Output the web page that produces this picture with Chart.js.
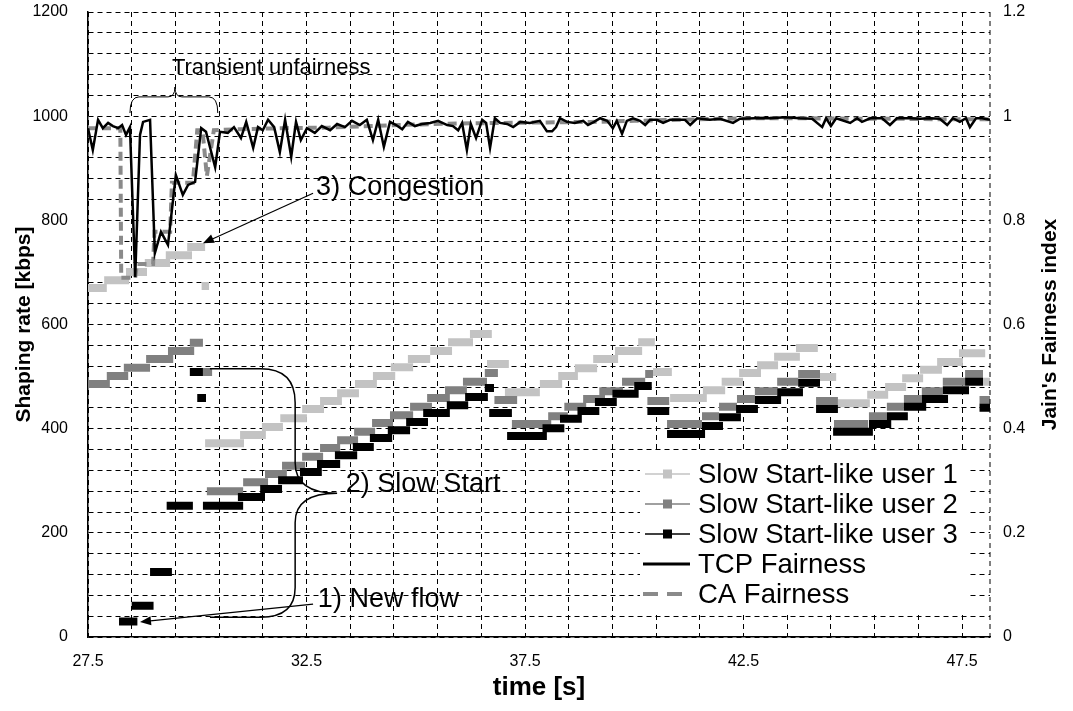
<!DOCTYPE html>
<html>
<head>
<meta charset="utf-8">
<script src="https://cdn.jsdelivr.net/npm/chart.js@4.4.1/dist/chart.umd.min.js"></script>
<style>
  html, body { margin: 0; padding: 0; background: #fff; }
  #wrap { width: 1073px; height: 711px; }
</style>
</head>
<body>
<div id="wrap"><canvas id="chart" width="1073" height="711"></canvas></div>
<script>
// axis ticks
const timeGrid = [27.5, 28.5, 29.5, 30.5, 31.5, 32.5, 33.5, 34.5, 35.5, 36.5, 37.5,
                  38.5, 39.5, 40.5, 41.5, 42.5, 43.5, 44.5, 45.5, 46.5, 47.5];
const timeLabels = [27.5, 32.5, 37.5, 42.5, 47.5];
const rateLabels = [0, 200, 400, 600, 800, 1000, 1200];
const rateGridStep = 40;
const fairLabels = [0, 0.2, 0.4, 0.6, 0.8, 1, 1.2];

// shaping rate steps: [start time, end time, kbps]
const user1Steps = [
  [27.5, 27.93, 670], [27.87, 28.44, 685], [28.37, 28.85, 701], [28.8, 29.38, 718],
  [29.28, 29.88, 733], [29.77, 30.18, 749], [30.1, 30.27, 674],
  [30.18, 31.07, 372], [30.98, 31.57, 388], [31.48, 31.96, 403], [31.9, 32.51, 420],
  [32.4, 32.9, 438], [32.81, 33.31, 453], [33.2, 33.7, 468], [33.61, 34.11, 486],
  [34.02, 34.53, 501], [34.43, 34.94, 518], [34.82, 35.33, 534], [35.33, 35.83, 549],
  [35.74, 36.31, 566], [36.24, 36.74, 582], [36.63, 37.13, 524],
  [37.04, 37.84, 470], [37.84, 38.35, 486], [38.26, 38.71, 501], [38.64, 39.15, 516],
  [39.06, 39.63, 534], [39.56, 40.18, 549], [40.09, 40.47, 566], [40.43, 40.86, 509],
  [40.82, 41.66, 459], [41.57, 42.08, 474], [42.0, 42.49, 490], [42.4, 42.9, 507],
  [42.81, 43.29, 522], [43.2, 43.79, 538], [43.7, 44.2, 555], [44.25, 44.62, 499],
  [44.66, 45.39, 449], [45.33, 45.81, 465], [45.74, 46.22, 480], [46.13, 46.61, 497],
  [46.54, 47.04, 513], [46.93, 47.52, 528], [47.43, 48.03, 545], [47.98, 48.14, 490]
];
const user2Steps = [
  [27.5, 28.0, 486], [27.93, 28.42, 501], [28.32, 28.92, 517], [28.83, 29.45, 534],
  [29.33, 29.93, 549], [29.83, 30.13, 565], [30.13, 30.34, 509],
  [30.22, 31.05, 280], [31.05, 31.62, 297], [31.55, 32.05, 313], [31.94, 32.47, 329],
  [32.4, 32.88, 346], [32.81, 33.27, 363], [33.2, 33.68, 378], [33.59, 34.07, 394],
  [34.0, 34.48, 411], [34.41, 34.94, 426], [34.87, 35.37, 442], [35.26, 35.78, 459],
  [35.67, 36.17, 474], [36.08, 36.63, 490], [36.58, 36.88, 507], [36.8, 37.32, 455],
  [37.2, 38.1, 409], [38.03, 38.48, 424], [38.4, 38.9, 442], [38.83, 39.33, 457],
  [39.2, 39.74, 472], [39.72, 40.25, 490], [40.25, 40.43, 505], [40.3, 40.8, 453],
  [40.75, 41.55, 409], [41.55, 41.94, 424], [41.94, 42.35, 442], [42.35, 42.76, 457],
  [42.76, 43.27, 472], [43.27, 43.75, 490], [43.75, 44.25, 505], [44.16, 44.66, 453],
  [44.57, 45.35, 409], [45.37, 45.78, 424], [45.78, 46.17, 442], [46.17, 46.58, 457],
  [46.58, 47.06, 472], [47.06, 47.57, 490], [47.57, 47.98, 505], [47.9, 48.14, 455]
];
const user3Steps = [
  [28.21, 28.63, 30], [28.5, 29.0, 60], [28.92, 29.42, 125], [29.3, 29.9, 252],
  [29.83, 30.13, 509], [30.0, 30.2, 459],
  [30.13, 31.05, 252], [30.93, 31.55, 269], [31.44, 31.94, 284], [31.85, 32.42, 301],
  [32.35, 32.85, 317], [32.74, 33.27, 332], [33.15, 33.66, 349], [33.56, 34.04, 365],
  [33.95, 34.46, 382], [34.36, 34.87, 397], [34.78, 35.28, 413], [35.17, 35.78, 430],
  [35.71, 36.2, 445], [36.13, 36.65, 461], [36.58, 36.79, 478], [36.68, 37.2, 430],
  [37.09, 38.0, 386], [37.9, 38.4, 401], [38.3, 38.8, 419], [38.7, 39.2, 434],
  [39.1, 39.6, 451], [39.5, 40.1, 467], [40.0, 40.4, 482], [40.3, 40.8, 434],
  [40.75, 41.62, 390], [41.55, 42.03, 405], [41.94, 42.44, 422], [42.33, 42.83, 438],
  [42.76, 43.36, 455], [43.27, 43.86, 470], [43.75, 44.25, 488], [44.16, 44.66, 438],
  [44.55, 45.46, 394], [45.37, 45.88, 409], [45.78, 46.26, 424], [46.17, 46.68, 442],
  [46.58, 47.18, 457], [47.06, 47.66, 474], [47.57, 47.98, 490], [47.9, 48.14, 440]
];

// Jain's fairness index: [time, index]
const tcpFairness = [
  [27.5, .977], [27.61, .935], [27.73, .993], [27.84, .977], [27.96, .987], [28.07, .981],
  [28.19, .977], [28.28, .983], [28.37, .964], [28.46, .979], [28.58, .691], [28.69, .964],
  [28.76, .989], [28.92, .993], [29.03, .737], [29.17, .778], [29.33, .753], [29.51, .887],
  [29.67, .849], [29.79, .868], [29.95, .874], [30.09, .977], [30.2, .970], [30.41, .902],
  [30.52, .970], [30.7, .968], [30.84, .979], [31.0, .958], [31.12, .989], [31.28, .939],
  [31.39, .979], [31.5, .973], [31.62, .993], [31.76, .979], [31.89, .931], [32.01, .993],
  [32.15, .922], [32.26, .989], [32.37, .954], [32.51, .977], [32.69, .968], [32.85, .981],
  [33.04, .973], [33.2, .985], [33.38, .979], [33.54, .991], [33.72, .983], [33.88, .993],
  [34.02, .954], [34.14, .993], [34.27, .941], [34.41, .989], [34.55, .983], [34.69, .975],
  [34.82, .989], [34.98, .981], [35.14, .985], [35.33, .987], [35.51, .991], [35.72, .983],
  [35.85, .981], [35.97, .973], [36.06, .987], [36.17, .935], [36.26, .985], [36.38, .958],
  [36.52, .993], [36.61, .987], [36.7, .939], [36.81, .996], [36.93, .987], [37.09, .985],
  [37.23, .979], [37.39, .989], [37.61, .987], [37.84, .991], [38.0, .971], [38.12, .971],
  [38.21, .979], [38.3, .996], [38.46, .989], [38.64, .987], [38.83, .991], [38.94, .983],
  [39.08, .989], [39.22, .996], [39.38, .991], [39.51, .977], [39.6, .991], [39.72, .966],
  [39.83, .991], [39.97, .996], [40.13, .991], [40.25, .983], [40.36, .993], [40.52, .993],
  [40.66, .987], [40.82, .993], [40.98, .993], [41.16, .993], [41.28, .983], [41.44, .996],
  [41.73, .993], [41.96, .995], [42.26, .987], [42.42, .995], [42.76, .996], [43.11, .996],
  [43.45, .998], [43.79, .996], [44.07, .995], [44.3, .979], [44.39, .996], [44.5, .981],
  [44.62, .996], [44.94, .987], [45.1, .996], [45.21, .989], [45.4, .996], [45.67, .996],
  [45.85, .983], [46.01, .996], [46.31, .996], [46.54, .995], [46.77, .996], [46.99, .995],
  [47.16, .983], [47.29, .996], [47.45, .989], [47.59, .996], [47.68, .979], [47.82, .996],
  [47.96, .996], [48.14, .993]
];
const caFairness = [
  [27.5, .977], [28.24, .977], [28.26, .69], [28.58, .69], [28.62, .716], [28.99, .716],
  [29.02, .778], [29.38, .778], [29.42, .872], [29.9, .872], [30.0, .973], [30.12, .973],
  [30.22, .885], [30.38, .973], [31.0, .975], [32.0, .977], [33.0, .978], [34.0, .981],
  [35.0, .984], [36.0, .986], [37.0, .987], [38.0, .988], [39.0, .989], [40.0, .991],
  [41.0, .993], [42.0, .995], [43.0, .996], [44.0, .996], [45.0, .995], [46.0, .995],
  [47.0, .994], [48.14, .994]
];

const seriesNames = ['Slow Start-like user 1', 'Slow Start-like user 2', 'Slow Start-like user 3',
                     'TCP Fairness', 'CA Fairness'];

// turn each step into its own horizontal segment
function stepPoints(steps) {
  const pts = [];
  steps.forEach(([t0, t1, v]) => {
    pts.push({x: t0, y: v}, {x: t1, y: v}, {x: t1, y: null});
  });
  return pts;
}
const pairPoints = (rows) => rows.map(([t, f]) => ({x: t, y: f}));

const sans = "'Liberation Sans', Arial, sans-serif";
const narrow = "'Liberation Sans Narrow', 'Arial Narrow', 'Liberation Sans', Arial, sans-serif";
const tickFont = {family: narrow, size: 16};

function stepSet(label, steps, color, order) {
  return {
    label, data: stepPoints(steps), yAxisID: 'y',
    borderColor: color, backgroundColor: color, borderWidth: 8,
    borderCapStyle: 'butt', pointRadius: 0, spanGaps: false, tension: 0, order
  };
}

// annotations, placed in data units
const notes = [
  {text: 'Transient unfairness', t: 29.42, v: 1092, size: 22},
  {text: '3) Congestion', t: 32.72, v: 862, size: 27},
  {text: '2) Slow Start', t: 33.4, v: 292, size: 27},
  {text: '1) New flow', t: 32.76, v: 71, size: 27}
];
const arrows = [
  {from: [32.65, 852], to: [30.13, 756]},
  {from: [32.65, 63], to: [28.69, 29]}
];

function drawArrow(ctx, x1, y1, x2, y2) {
  const a = Math.atan2(y2 - y1, x2 - x1);
  ctx.beginPath();
  ctx.moveTo(x1, y1);
  ctx.lineTo(x2 - 8 * Math.cos(a), y2 - 8 * Math.sin(a));
  ctx.stroke();
  ctx.beginPath();
  ctx.moveTo(x2, y2);
  ctx.lineTo(x2 - 11 * Math.cos(a) + 4.5 * Math.sin(a), y2 - 11 * Math.sin(a) - 4.5 * Math.cos(a));
  ctx.lineTo(x2 - 11 * Math.cos(a) - 4.5 * Math.sin(a), y2 - 11 * Math.sin(a) + 4.5 * Math.cos(a));
  ctx.closePath();
  ctx.fill();
}

const extras = {
  id: 'extras',
  afterDraw(chart) {
    const {ctx, chartArea: area, scales} = chart;
    const X = (t) => scales.x.getPixelForValue(t);
    const Y = (v) => scales.y.getPixelForValue(v);
    ctx.save();

    // dashed right frame
    ctx.strokeStyle = '#000';
    ctx.lineWidth = 1;
    ctx.setLineDash([5, 4]);
    ctx.beginPath();
    ctx.moveTo(area.right, area.top);
    ctx.lineTo(area.right, area.bottom);
    ctx.stroke();
    ctx.setLineDash([]);

    // text notes
    ctx.fillStyle = '#000';
    ctx.textBaseline = 'middle';
    ctx.textAlign = 'left';
    notes.forEach(n => {
      ctx.font = n.size + 'px ' + sans;
      ctx.fillText(n.text, X(n.t), Y(n.v));
    });

    // brace over the transient
    ctx.lineWidth = 1;
    const xs = X(28.46), xe = X(30.47), xm = X(29.49);
    const yb = Y(1006), yt = Y(1037), yp = Y(1056);
    ctx.beginPath();
    ctx.moveTo(xs, yb);
    ctx.quadraticCurveTo(xs, yt, xs + 9, yt);
    ctx.lineTo(xm - 7, yt);
    ctx.quadraticCurveTo(xm, yt, xm, yp);
    ctx.quadraticCurveTo(xm, yt, xm + 7, yt);
    ctx.lineTo(xe - 9, yt);
    ctx.quadraticCurveTo(xe, yt, xe, yb);
    ctx.stroke();

    // bracket for slow start
    const tA = X(30.29), tV = X(32.24), tP = X(33.2);
    ctx.lineWidth = 1.5;
    ctx.beginPath();
    ctx.moveTo(tA, Y(515));
    ctx.lineTo(X(31.45), Y(515));
    ctx.quadraticCurveTo(tV, Y(515), tV, Y(450));
    ctx.lineTo(tV, Y(335));
    ctx.quadraticCurveTo(tV, Y(276), tP, Y(276));
    ctx.quadraticCurveTo(tV, Y(276), tV, Y(220));
    ctx.lineTo(tV, Y(95));
    ctx.quadraticCurveTo(tV, Y(38), X(31.45), Y(38));
    ctx.lineTo(tA, Y(38));
    ctx.stroke();

    // arrows
    ctx.lineWidth = 1.2;
    arrows.forEach(a => drawArrow(ctx, X(a.from[0]), Y(a.from[1]), X(a.to[0]), Y(a.to[1])));

    // right axis title, read bottom to top
    ctx.font = 'bold 21px ' + sans;
    ctx.textAlign = 'center';
    ctx.translate(1050, (area.top + area.bottom) / 2);
    ctx.rotate(-Math.PI / 2);
    ctx.fillText("Jain's Fairness index", 0, 0);
    ctx.setTransform(1, 0, 0, 1, 0, 0);

    // legend box
    const lx = area.right - 350, ly = area.bottom - 185;
    ctx.fillStyle = '#fff';
    ctx.fillRect(lx, ly, 327, 160);
    chart.data.datasets.forEach((ds, i) => {
      const cy = ly + 22 + i * 30;
      ctx.strokeStyle = ds.borderColor;
      ctx.fillStyle = ds.borderColor;
      if (i < 3) {
        ctx.lineWidth = 1.5;
        ctx.beginPath(); ctx.moveTo(lx + 5, cy); ctx.lineTo(lx + 50, cy); ctx.stroke();
        ctx.fillRect(lx + 23, cy - 4.5, 9, 9);
      } else {
        ctx.lineWidth = ds.borderWidth + (i === 3 ? 0.5 : 0);
        ctx.setLineDash(ds.borderDash ? [15, 9] : []);
        ctx.beginPath(); ctx.moveTo(lx + 3, cy); ctx.lineTo(lx + 50, cy); ctx.stroke();
        ctx.setLineDash([]);
      }
      ctx.fillStyle = '#000';
      ctx.font = '27.5px ' + sans;
      ctx.textAlign = 'left';
      ctx.fillText(ds.label, lx + 58, cy + 1);
    });
    ctx.restore();
  }
};

// keep the plot flush with the layout padding
const noTickPadding = (axis) => { axis.paddingTop = 0; axis.paddingBottom = 0; };

new Chart(document.getElementById('chart'), {
  type: 'line',
  data: {
    datasets: [
      stepSet(seriesNames[0], user1Steps, '#c3c3c3', 5),
      stepSet(seriesNames[1], user2Steps, '#808080', 4),
      stepSet(seriesNames[2], user3Steps, '#000000', 3),
      {
        label: seriesNames[3], data: pairPoints(tcpFairness), yAxisID: 'y1',
        borderColor: '#000', borderWidth: 2.5, pointRadius: 0, tension: 0, order: 1
      },
      {
        label: seriesNames[4], data: pairPoints(caFairness), yAxisID: 'y1',
        borderColor: '#8a8a8a', borderWidth: 4, borderDash: [9, 5], pointRadius: 0,
        tension: 0, order: 2
      }
    ]
  },
  options: {
    responsive: false,
    animation: false,
    devicePixelRatio: 1,
    layout: {padding: {top: 12, left: 0, right: 0, bottom: 0}},
    plugins: {legend: {display: false}, tooltip: {enabled: false}},
    scales: {
      x: {
        type: 'linear', min: 27.5, max: 48.14,
        afterBuildTicks: (axis) => { axis.ticks = timeGrid.map(v => ({value: v})); },
        afterFit: (axis) => { axis.height = 74; },
        ticks: {
          autoSkip: false, maxRotation: 0, padding: 15, color: '#000', font: tickFont,
          callback: (v) => timeLabels.includes(v) ? v.toFixed(1) : ''
        },
        grid: {color: '#000', lineWidth: 1, drawTicks: false},
        border: {display: true, color: '#000', width: 1.5, dash: [5, 4]},
        title: {
          display: true, text: 'time [s]', color: '#000',
          font: {family: narrow, size: 26, weight: 'bold'}, padding: {top: 0, bottom: 8}
        }
      },
      y: {
        position: 'left', min: 0, max: 1200,
        afterBuildTicks: (axis) => {
          const ticks = [];
          for (let v = 0; v <= 1200; v += rateGridStep) ticks.push({value: v});
          axis.ticks = ticks;
        },
        afterFit: (axis) => { axis.width = 88; noTickPadding(axis); },
        ticks: {
          autoSkip: false, padding: 20, color: '#000', font: tickFont,
          callback: (v) => rateLabels.includes(v) ? String(v) : ''
        },
        grid: {color: '#000', lineWidth: 1, drawTicks: false},
        border: {display: true, color: '#000', width: 1.5, dash: [5, 4]},
        title: {
          display: true, text: 'Shaping rate [kbps]', color: '#000',
          font: {family: sans, size: 21, weight: 'bold'}, padding: {top: 12, bottom: 0}
        }
      },
      y1: {
        position: 'right', min: 0, max: 1.2,
        afterBuildTicks: (axis) => { axis.ticks = fairLabels.map(v => ({value: v})); },
        afterFit: (axis) => { axis.width = 83; noTickPadding(axis); },
        ticks: {autoSkip: false, padding: 13, color: '#000', font: tickFont, callback: (v) => String(v)},
        grid: {display: false, drawTicks: false},
        border: {display: false}
      }
    }
  },
  plugins: [extras]
});
</script>
</body>
</html>
